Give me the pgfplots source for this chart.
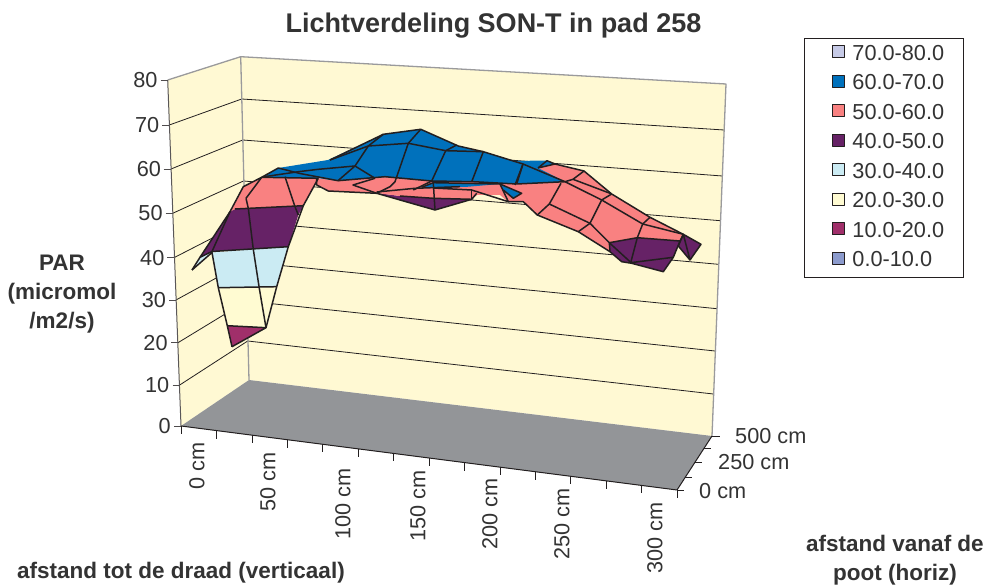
\documentclass[border=0pt]{standalone}
\usepackage{fontspec}
\setmainfont{Liberation Sans}
\usepackage{pgfplots}
\pgfplotsset{compat=1.18}
\definecolor{wallc}{HTML}{FFF9D3}
\definecolor{floorc}{HTML}{939598}
\definecolor{edgec}{HTML}{9A9A9C}
\definecolor{ink}{HTML}{231F20}
\definecolor{txt}{HTML}{333333}
\definecolor{b0}{HTML}{8C9BCD}
\definecolor{b1}{HTML}{A02F6A}
\definecolor{b2}{HTML}{FFFBD2}
\definecolor{b3}{HTML}{CBEBF3}
\definecolor{b4}{HTML}{662266}
\definecolor{b5}{HTML}{F98181}
\definecolor{b6}{HTML}{0071BC}
\definecolor{b7}{HTML}{C6CAE6}
\begin{document}
\begin{tikzpicture}
\useasboundingbox (0,0) rectangle (989pt,585pt);
\begin{axis}[
  at={(0,0)},anchor=south west,
  width=989pt,height=585pt,scale only axis,
  xmin=0,xmax=989,ymin=0,ymax=585,y dir=reverse,
  axis lines=none,clip=false,unbounded coords=jump,
  legend style={at={(axis cs:804,38)},anchor=north west,draw=ink,line width=0.9pt,fill=white,
    font=\fontsize{21.7}{24}\selectfont\color{txt},
    inner xsep=16pt,inner ysep=6.7pt,
    nodes={text height=15pt,text depth=4pt,inner ysep=0pt,inner xsep=3pt},
    row sep=10.5pt,legend cell align=left},
  legend image code/.code={\path[draw=none,fill=none] (0pt,0pt) -- (29pt,0pt);\draw[#1,draw=ink,line width=0.9pt] (12pt,-3pt) rectangle (24pt,9pt);},
  every axis plot/.append style={no markers,line join=round,forget plot},
]
% ---- walls and floor (projected picture coordinates)
\addplot[fill=wallc,draw=none] coordinates {(167.7,80)(240.7,56.7)(249,380)(181,426)} -- cycle;
\addplot[fill=wallc,draw=none] coordinates {(240.7,56.7)(726,84)(712,436)(249,380)} -- cycle;
\addplot[fill=floorc,draw=none] coordinates {(181,426)(249,380)(712,436)(677,490)} -- cycle;
% ---- gridlines
\pgfplotsset{gl/.style={draw=ink,line width=0.8pt}}
\addplot[gl] coordinates {(169.3,125)(241.7,99)(724,130)};
\addplot[gl] coordinates {(171,169)(242.7,140)(722.3,176)};
\addplot[gl] coordinates {(172.7,213.3)(243.5,181)(720.3,220.7)};
\addplot[gl] coordinates {(174,257.7)(244.5,221.5)(718.3,264.3)};
\addplot[gl] coordinates {(176,300)(245.5,262)(717,308.7)};
\addplot[gl] coordinates {(178,342.7)(246.5,301)(715,351)};
\addplot[gl] coordinates {(179.7,385)(247.7,341)(713.3,394)};
% ---- wall edges
\addplot[draw=edgec,line width=1.3pt] coordinates {(167.7,80)(240.7,56.7)(726,84)(712,436)};
\addplot[draw=edgec,line width=1.3pt] coordinates {(240.7,56.7)(249,380)};
\addplot[draw=ink!75,line width=1pt] coordinates {(167.7,80)(181,426)};
\addplot[draw=ink,line width=1pt] coordinates {(181,426)(677,490)(712,436)};
% ---- value axis ticks
\addplot[draw=ink!80,line width=0.8pt] coordinates {(160.5,80)(167.7,80)};
\addplot[draw=ink!80,line width=0.8pt] coordinates {(162,125)(169.3,125)};
\addplot[draw=ink!80,line width=0.8pt] coordinates {(163.7,169)(171,169)};
\addplot[draw=ink!80,line width=0.8pt] coordinates {(165.5,213.3)(172.7,213.3)};
\addplot[draw=ink!80,line width=0.8pt] coordinates {(167,257.7)(174,257.7)};
\addplot[draw=ink!80,line width=0.8pt] coordinates {(169,300)(176,300)};
\addplot[draw=ink!80,line width=0.8pt] coordinates {(171,342.7)(178,342.7)};
\addplot[draw=ink!80,line width=0.8pt] coordinates {(172.7,385)(179.7,385)};
\addplot[draw=ink!80,line width=0.8pt] coordinates {(174,426)(181,426)};
% ---- front ticks
\addplot[draw=ink,line width=0.8pt] coordinates {(181,426)(181,434) (181,nan) (216.4,430.6)(216.4,438.6) (216.4,nan) (251.9,435.1)(251.9,443.1) (251.9,nan) (287.3,439.7)(287.3,447.7) (287.3,nan) (322.7,444.3)(322.7,452.3) (322.7,nan) (358.1,448.9)(358.1,456.9) (358.1,nan) (393.6,453.4)(393.6,461.4) (393.6,nan) (429,458)(429,466) (429,nan) (464.4,462.6)(464.4,470.6) (464.4,nan) (499.9,467.1)(499.9,475.1) (499.9,nan) (535.3,471.7)(535.3,479.7) (535.3,nan) (570.7,476.3)(570.7,484.3) (570.7,nan) (606.1,480.9)(606.1,488.9) (606.1,nan) (641.6,485.4)(641.6,493.4) (641.6,nan) (677,490)(677,498)};
% ---- depth ticks
\addplot[draw=ink,line width=0.8pt] coordinates {(677,490)(684,490)};
\addplot[draw=ink,line width=0.8pt] coordinates {(685,477.7)(692,477.7)};
\addplot[draw=ink,line width=0.8pt] coordinates {(695,462)(702,462)};
\addplot[draw=ink,line width=0.8pt] coordinates {(704,448)(711,448)};
\addplot[draw=ink,line width=0.8pt] coordinates {(712,436)(720,436)};
% ---- surface bands, back to front
\pgfplotsset{ml/.style={draw=ink,line width=1.5pt}}
\addplot[fill=b5,draw=none] coordinates {(515,184)(538,168)(555,164)(584,171)(612,194)(650,217.3)(683.3,234.3)(680,241)(637.3,237.7)(609.3,242.7)(610,251.7)(578.3,231.7)(537.3,215)(523.3,201.7)(508,201.7)(500,184)} -- cycle;
\addplot[fill=b4,draw=none] coordinates {(609.3,242.7)(637.3,237.7)(680,241)(673.3,257.3)(663.3,271.7)(631.7,263.3)(621.7,261.7)(610,251.7)} -- cycle;
\addplot[fill=b4,draw=none] coordinates {(683.3,234.3)(701,244.3)(690,260)(678.3,246)} -- cycle;
\addplot[fill=b4,draw=none] coordinates {(376.7,193)(400,196)(433,198)(472,199)(435,210)} -- cycle;
\addplot[fill=b5,draw=none] coordinates {(317,178)(338,181)(385,177)(432,181)(473,182)(517,184)(508,201.7)(500,195)(477,195)(472,199)(433,198)(400,196)(377,193)(328,191)(317,185)} -- cycle;
\addplot[fill=b6,draw=none] coordinates {(261.7,177.3)(278.3,168)(328,160)(383.3,134.3)(420.7,129.3)(458.3,146)(483.3,151.7)(513,161)(547,160.5)(555,164)(538,168)(565,181.7)(517,184)(473,182)(432,181)(385,177)(338,181)(318,178)} -- cycle;
\addplot[fill=b6,draw=none] coordinates {(421.7,187.3)(433.3,182.7)(500,184)(465,187)(435,187)} -- cycle;
\addplot[fill=b6,draw=none] coordinates {(500,184)(521.7,193.3)(513.3,198.3)(503.3,190)} -- cycle;
% left lobe
\addplot[fill=b1,draw=none] coordinates {(227.3,325.7)(266,327.7)(232,346.7)} -- cycle;
\addplot[fill=b2,draw=none] coordinates {(218.3,287.7)(276.7,286.7)(266,327.7)(227.3,325.7)} -- cycle;
\addplot[fill=b3,draw=none] coordinates {(212,252.5)(288.3,246.7)(276.7,286.7)(218.3,287.7)} -- cycle;
\addplot[fill=b3,draw=none] coordinates {(192,270)(200,257.3)(212,252.5)} -- cycle;
\addplot[fill=b4,draw=none] coordinates {(200,257.3)(230,211.7)(235,209)(303.3,205.7)(298.3,215)(288.3,246.7)(212,251.5)} -- cycle;
\addplot[fill=b5,draw=none] coordinates {(230,211.7)(243.3,186.7)(261.7,177.3)(318.3,178.3)(303.3,205.7)(235,209)} -- cycle;
% mesh lines: left lobe
\addplot[ml] coordinates {(192,270)(212,252.5)(218.3,287.7)(227.3,325.7)(232,346.7)};
\addplot[ml] coordinates {(192,270)(200,257.3)(230,211.7)(243.3,186.7)(261.7,177.3)(278.3,168)(300,173.5)};
\addplot[ml] coordinates {(200,257.3)(212,251.5)(230,211.7)};
\addplot[ml] coordinates {(246,198.3)(248.3,208.3)(253.3,249.3)(259.3,288.3)(266,327.7)};
\addplot[ml] coordinates {(246,198.3)(261.7,177.3)};
\addplot[ml] coordinates {(285,176.7)(295,206.7)(298.3,215)};
\addplot[ml] coordinates {(235,209)(303.3,205.7)(318.3,178.3)};
\addplot[ml] coordinates {(303.3,205.7)(288.3,246.7)(276.7,286.7)(266,327.7)(232,346.7)};
\addplot[ml] coordinates {(212,251.5)(288.3,246.7)};
\addplot[ml] coordinates {(218.3,287.7)(276.7,286.7)};
\addplot[ml] coordinates {(227.3,325.7)(266,327.7)};
\addplot[ml] coordinates {(261.7,177.3)(318.3,178.3)};
\addplot[ml] coordinates {(262,177)(300,171.5)(318.3,169.3)(355,166)};
% mesh lines: middle
\addplot[ml] coordinates {(300,173.5)(338,180.7)(385,176.7)(431.7,181)(473.3,181.7)(516.7,184)(565,181.7)};
\addplot[ml] coordinates {(338,180.7)(355,166)(368.3,146)(383.3,134.3)};
\addplot[ml] coordinates {(355,166)(375,178.3)};
\addplot[ml] coordinates {(330,160)(383.3,134.3)(420.7,129.3)(458.3,146)(483.3,151.7)(523,164)(565,181.7)};
\addplot[ml] coordinates {(330,160)(368.3,146)(408.3,143.3)(445.7,150.7)(483.3,151.7)};
\addplot[ml] coordinates {(445.7,150.7)(456.7,145)};
\addplot[ml] coordinates {(420.7,129.3)(408.3,143.3)(395,181.7)(390,186.7)(376.7,193.3)};
\addplot[ml] coordinates {(445.7,150.7)(431.7,181)(413.3,190)};
\addplot[ml] coordinates {(483.3,151.7)(471.7,181.7)};
\addplot[ml] coordinates {(523,164)(516.7,184)};
\addplot[ml] coordinates {(316.7,178)(316.7,185)(328.3,191)(376.7,193.3)(435,210)(471.7,199.3)(476.7,193.3)};
\addplot[ml] coordinates {(375,178.3)(353,185)(376.7,193.3)};
\addplot[ml] coordinates {(376.7,192)(415,188.3)(460,186.7)};
\addplot[ml] coordinates {(421.7,187.3)(433.3,182.7)(500,184)};
\addplot[ml] coordinates {(433.3,188)(471.7,190)(508.3,201.7)(500,184)};
\addplot[ml] coordinates {(471.7,190)(471.7,199.3)};
\addplot[ml] coordinates {(400,196)(433.3,198.3)(471.7,199.3)};
\addplot[ml] coordinates {(433.3,182.7)(435,210)};
\addplot[ml] coordinates {(500,184)(521.7,193.3)(513.3,198.3)(503.3,190)};
% mesh lines: right
\addplot[ml] coordinates {(523,164)(515,185)};
\addplot[ml] coordinates {(538,168)(547,160.7)(555,164)(538,168)};
\addplot[ml] coordinates {(555,164)(584,171)(611.7,194)(650,217.3)(683.3,234.3)(701,244.3)(690,260)(678.3,246)(683.3,234.3)(690,260)};
\addplot[ml] coordinates {(584,171)(573,179.3)(565,181.7)};
\addplot[ml] coordinates {(573,179.3)(610,193.3)};
\addplot[ml] coordinates {(611.7,194)(601.7,200)};
\addplot[ml] coordinates {(565,181.7)(601.7,200)(642.7,224)(650,217.3)};
\addplot[ml] coordinates {(642.7,224)(683.3,234.3)(680,241)(673.3,257.3)(663.3,271.7)(631.7,263.3)(621.7,261.7)(610,251.7)(609.3,242.7)(637.3,237.7)(680,241)};
\addplot[ml] coordinates {(601.7,200)(590,223.3)(578.3,231.7)};
\addplot[ml] coordinates {(561,183.3)(549.3,204)(537.3,215)};
\addplot[ml] coordinates {(549.3,204)(590,223.3)(609.3,242.7)(630,261.7)};
\addplot[ml] coordinates {(642.7,224)(637.3,237.7)(630.7,262.7)(673.3,257.3)};
\addplot[ml] coordinates {(508,201.7)(523.3,201.7)(537.3,215)(578.3,231.7)(610,251.7)};
% ---- legend
\addlegendimage{fill=b7}\addlegendentry{70.0-80.0}
\addlegendimage{fill=b6}\addlegendentry{60.0-70.0}
\addlegendimage{fill=b5}\addlegendentry{50.0-60.0}
\addlegendimage{fill=b4}\addlegendentry{40.0-50.0}
\addlegendimage{fill=b3}\addlegendentry{30.0-40.0}
\addlegendimage{fill=b2}\addlegendentry{20.0-30.0}
\addlegendimage{fill=b1}\addlegendentry{10.0-20.0}
\addlegendimage{fill=b0}\addlegendentry{0.0-10.0}
% ---- texts
\def\tf{\fontsize{21.7}{24}\selectfont\color{txt}}
\def\bff{\fontsize{22.5}{29}\selectfont\bfseries\color{txt}}
\node[font=\fontsize{27}{30}\selectfont\bfseries,text=txt] at (axis cs:493.5,26) {Lichtverdeling SON-T in pad 258};
\foreach \v/\yy in {80/80,70/125,60/169,50/213.3,40/257.7,30/300,20/342.7,10/385,0/426}{
  \pgfmathsetmacro{\xx}{167.7+13.3*(\yy-80)/346-10}
  \edef\tmp{\noexpand\node[font=\noexpand\tf,anchor=east,inner sep=0pt] at (axis cs:\xx,\yy) {\v};}\tmp}
\node[font=\bff,align=center] at (axis cs:62,294) {PAR\\(micromol\\/m2/s)};
\node[font=\tf,rotate=90,anchor=east,inner sep=0pt] at (axis cs:197,442) {0 cm};
\node[font=\tf,rotate=90,anchor=east,inner sep=0pt] at (axis cs:268,452) {50 cm};
\node[font=\tf,rotate=90,anchor=east,inner sep=0pt] at (axis cs:343,468) {100 cm};
\node[font=\tf,rotate=90,anchor=east,inner sep=0pt] at (axis cs:418,470) {150 cm};
\node[font=\tf,rotate=90,anchor=east,inner sep=0pt] at (axis cs:490,478) {200 cm};
\node[font=\tf,rotate=90,anchor=east,inner sep=0pt] at (axis cs:562,488) {250 cm};
\node[font=\tf,rotate=90,anchor=east,inner sep=0pt] at (axis cs:655,502) {300 cm};
\node[font=\tf,anchor=west,inner sep=0pt] at (axis cs:735,436) {500 cm};
\node[font=\tf,anchor=west,inner sep=0pt] at (axis cs:718,462) {250 cm};
\node[font=\tf,anchor=west,inner sep=0pt] at (axis cs:699,491) {0 cm};
\node[font=\bff,anchor=base west,inner sep=0pt] at (axis cs:17,578) {afstand tot de draad (verticaal)};
\node[font=\bff,align=center] at (axis cs:895,560) {afstand vanaf de\\poot (horiz)};
\end{axis}
\end{tikzpicture}
\end{document}
